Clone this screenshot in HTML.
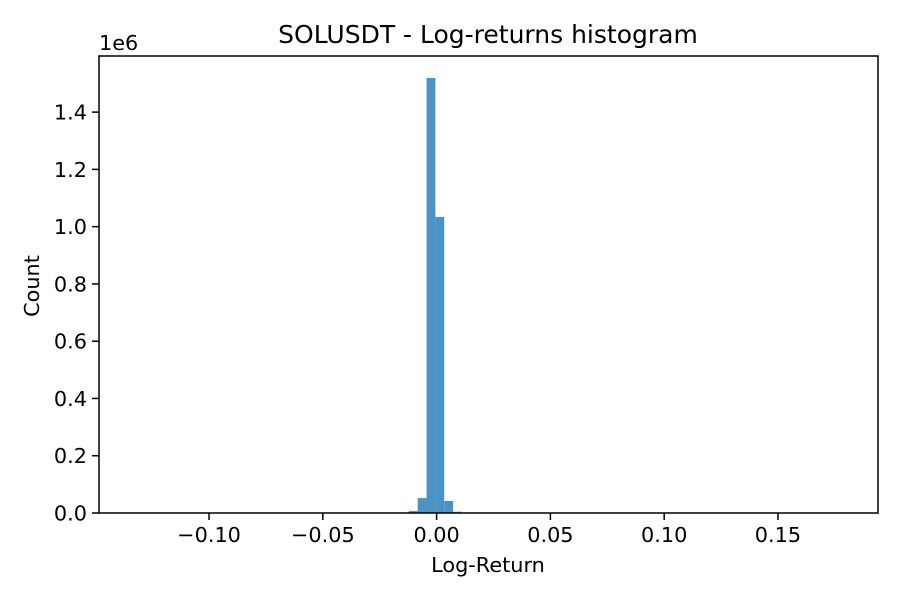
<!DOCTYPE html>
<html><head><meta charset="utf-8"><style>
body{margin:0;background:#fff}
svg text{font-family:"DejaVu Sans","Liberation Sans",sans-serif;fill:#000}
</style></head><body>
<svg width="900" height="600" xmlns="http://www.w3.org/2000/svg">
<rect width="900" height="600" fill="#fff"/>
<g id="bars"></g>
<g id="axes"></g>
<text x="488" y="43" font-size="16.7" text-anchor="middle" style="font-size:25px">SOLUSDT - Log-returns histogram</text>
<text x="488" y="572" text-anchor="middle" style="font-size:20.8px">Log-Return</text>
<text x="39" y="286" text-anchor="middle" transform="rotate(-90 39 286)" style="font-size:20.8px">Count</text>
<text x="99" y="50" style="font-size:20.8px">1e6</text>
</svg>
<script>
const binMin = -0.1328;
const binMax = 0.1784;
const counts = [0,0,0,0,0,0,0,0,0,0,0,0,0,0,0,0,0,0,0,0,0,0,0,0,0,0,0,0,0,500,1500,7000,52000,1519000,1034000,42000,4500,1500,500,0,0,0,0,0,0,0,0,0,0,0,0,0,0,0,0,0,0,0,0,0,0,0,0,0,0,0,0,0,0,0,0,0,0,0,0,0,0,0,0,0];
const xTicks = [-0.10,-0.05,0.00,0.05,0.10,0.15];
const xTickLabels = ["\u22120.10","\u22120.05","0.00","0.05","0.10","0.15"];
const yTicks = [0,0.2e6,0.4e6,0.6e6,0.8e6,1.0e6,1.2e6,1.4e6];
const yTickLabels = ["0.0","0.2","0.4","0.6","0.8","1.0","1.2","1.4"];
const L=99,R=878,T=56,B=513;
const span=(binMax-binMin)*1.1, x0=binMin-(binMax-binMin)*0.05;
const xs=v=>L+(v-x0)/span*(R-L);
const ys=v=>B-v*(B-T)/(1.596e6);
const NS="http://www.w3.org/2000/svg";
const bars=document.getElementById('bars'), axes=document.getElementById('axes');
const w=(binMax-binMin)/counts.length;
counts.forEach((c,i)=>{ if(c<=0) return;
  const r=document.createElementNS(NS,'rect');
  const a=xs(binMin+i*w), b=xs(binMin+(i+1)*w);
  r.setAttribute('x',a); r.setAttribute('width',b-a);
  r.setAttribute('y',ys(c)); r.setAttribute('height',B-ys(c));
  r.setAttribute('fill','rgb(76,146,195)');
  
  
  bars.appendChild(r);
});
const frame=document.createElementNS(NS,'rect');
frame.setAttribute('x',L);frame.setAttribute('y',T);frame.setAttribute('width',R-L);frame.setAttribute('height',B-T);
frame.setAttribute('fill','none');frame.setAttribute('stroke','#000');frame.setAttribute('stroke-width','1.5');


axes.appendChild(frame);
xTicks.forEach((v,i)=>{
  const x=xs(v);
  const l=document.createElementNS(NS,'line');
  l.setAttribute('x1',x);l.setAttribute('x2',x);l.setAttribute('y1',B);l.setAttribute('y2',B+7);l.setAttribute('stroke','#000');l.setAttribute('stroke-width','1.5');
  
  
  axes.appendChild(l);
  const t=document.createElementNS(NS,'text');
  t.setAttribute('x',x);t.setAttribute('y',B+29);t.setAttribute('text-anchor','middle');t.setAttribute('style','font-size:20.8px');
  t.textContent=xTickLabels[i];
  
  
  axes.appendChild(t);
});
yTicks.forEach((v,i)=>{
  const y=ys(v);
  const l=document.createElementNS(NS,'line');
  l.setAttribute('x1',L-7);l.setAttribute('x2',L);l.setAttribute('y1',y);l.setAttribute('y2',y);l.setAttribute('stroke','#000');l.setAttribute('stroke-width','1.5');
  
  
  axes.appendChild(l);
  const t=document.createElementNS(NS,'text');
  t.setAttribute('x',L-12);t.setAttribute('y',y+7.5);t.setAttribute('text-anchor','end');t.setAttribute('style','font-size:20.8px');
  t.textContent=yTickLabels[i];
  
  
  axes.appendChild(t);
});
</script>
</body></html>
